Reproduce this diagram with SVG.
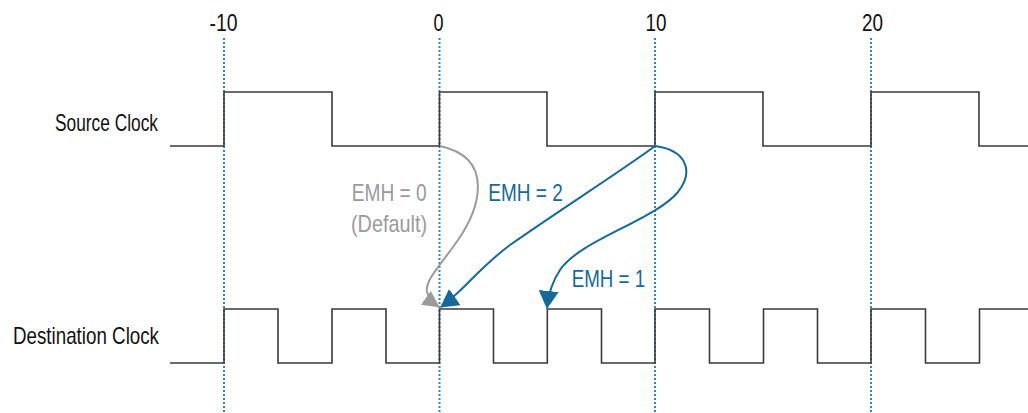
<svg xmlns="http://www.w3.org/2000/svg" width="1028" height="413" viewBox="0 0 1028 413">
<style>
.bg{fill:#ffffff}
.grid{stroke:#2f86c0;stroke-width:2;stroke-dasharray:2 2;fill:none}
.clk{stroke:#3a3a3a;stroke-width:1.6;fill:none}
.lbl{font-family:"Liberation Sans Narrow","Liberation Sans",Arial,sans-serif;font-size:24px;fill:#111}
.tick{font-family:"Liberation Sans Narrow","Liberation Sans",Arial,sans-serif;font-size:24px;fill:#111;text-anchor:middle}
.gtxt{font-family:"Liberation Sans Narrow","Liberation Sans",Arial,sans-serif;font-size:24px;fill:#9b9b9b}
.btxt{font-family:"Liberation Sans Narrow","Liberation Sans",Arial,sans-serif;font-size:24px;fill:#16699b}
.garr{stroke:#9b9b9b;stroke-width:2;fill:none}
.barr{stroke:#16699b;stroke-width:2;fill:none}
</style>
<defs>
<marker id="ahG" viewBox="0 0 18 18" refX="17" refY="9" markerWidth="17" markerHeight="18" markerUnits="userSpaceOnUse" orient="auto">
<path d="M0,0 L18,9 L0,18 z" fill="#9b9b9b"/>
</marker>
<marker id="ahB" viewBox="0 0 18 20" refX="17" refY="10" markerWidth="18" markerHeight="20" markerUnits="userSpaceOnUse" orient="auto">
<path d="M0,0 L18,10 L0,20 z" fill="#16699b"/>
</marker>
</defs>
<rect class="bg" x="0" y="0" width="1028" height="413"/>
<g id="gridlines">
<line class="grid" x1="224" y1="38" x2="224" y2="413"/>
<line class="grid" x1="439.5" y1="38" x2="439.5" y2="413"/>
<line class="grid" x1="655" y1="38" x2="655" y2="413"/>
<line class="grid" x1="871" y1="38" x2="871" y2="413"/>
</g>
<g id="ticks">
<text class="tick" x="223.5" y="31" textLength="28" lengthAdjust="spacingAndGlyphs">-10</text>
<text class="tick" x="438.5" y="31" textLength="10" lengthAdjust="spacingAndGlyphs">0</text>
<text class="tick" x="656" y="31" textLength="21" lengthAdjust="spacingAndGlyphs">10</text>
<text class="tick" x="872.5" y="31" textLength="21" lengthAdjust="spacingAndGlyphs">20</text>
</g>
<g id="source-clock">
<text class="lbl" x="55" y="131" textLength="103" lengthAdjust="spacingAndGlyphs">Source Clock</text>
<path class="clk" d="M170 146 H224 V92 H332 V146 H439.5 V92 H547 V146 H655 V92 H763 V146 H871 V92 H979 V146 H1028"/>
</g>
<g id="destination-clock">
<text class="lbl" x="13" y="344" textLength="146" lengthAdjust="spacingAndGlyphs">Destination Clock</text>
<path class="clk" d="M170 363 H224 V309 H278 V363 H332 V309 H386 V363 H439.5 V309 H493.5 V363 H547.3 V309 H601.5 V363 H655 V309 H709.5 V363 H763.5 V309 H817.5 V363 H871 V309 H925.5 V363 H979.5 V309 H1028"/>
</g>
<g id="connectors">
<path class="garr" d="M440 146 C495 158, 480 208, 458 240 C440 266, 425 280, 427 292 Q429 300, 439 307" marker-end="url(#ahG)"/>
<path class="barr" d="M655 146 C630 165, 560 210, 510 245 C480 267, 462 292, 441 307" marker-end="url(#ahB)"/>
<path class="barr" d="M655 146 C685 150, 695 170, 678 192 C655 220, 580 240, 560 270 C550 285, 548 298, 547 308" marker-end="url(#ahB)"/>
</g>
<g id="labels">
<text class="gtxt" x="351.7" y="201" textLength="75" lengthAdjust="spacingAndGlyphs">EMH = 0</text>
<text class="gtxt" x="351" y="232" textLength="76" lengthAdjust="spacingAndGlyphs">(Default)</text>
<text class="btxt" x="488.3" y="201" textLength="74.5" lengthAdjust="spacingAndGlyphs">EMH = 2</text>
<text class="btxt" x="571.7" y="287" textLength="73.5" lengthAdjust="spacingAndGlyphs">EMH = 1</text>
</g>
</svg>
